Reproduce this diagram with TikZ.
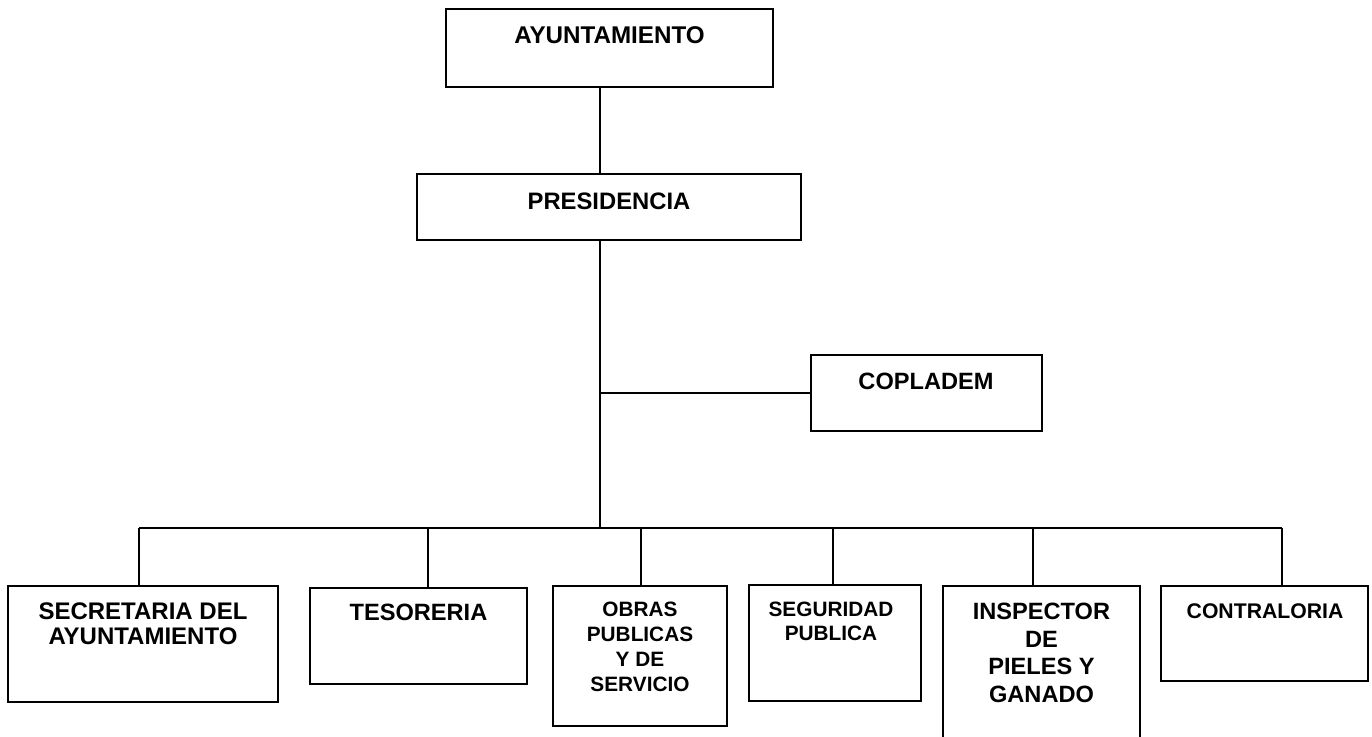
\documentclass[tikz,border=0pt]{standalone}
\usepackage{fontspec}
\setmainfont{Liberation Sans}
\newcommand\fsz[2]{\fontsize{#1}{#2}\selectfont\bfseries}
\begin{document}
\begin{tikzpicture}[x=0.5pt,y=-0.5pt,
  box/.style={draw, line width=1pt, rectangle, inner sep=0pt, fill=white},
  conn/.style={line width=1pt},
  ttl/.style={anchor=north, inner sep=0pt, align=center}]
\useasboundingbox (0,0) rectangle (1372,736);
\clip (0,0) rectangle (1372,736);

% boxes
\node[box, minimum width=163.5pt, minimum height=39pt] (ayun) at (609.5,48) {};
\node[box, minimum width=192pt, minimum height=33pt] (pres) at (609,207) {};
\node[box, minimum width=115.5pt, minimum height=38pt] (copl) at (926.5,393) {};
\node[box, minimum width=135pt, minimum height=58pt] (secr) at (143,644) {};
\node[box, minimum width=108.5pt, minimum height=48pt] (teso) at (418.5,636) {};
\node[box, minimum width=87pt, minimum height=70pt] (obras) at (640,656) {};
\node[box, minimum width=86pt, minimum height=58pt] (segu) at (835,643) {};
\node[box, minimum width=98.5pt, minimum height=87pt] (insp) at (1041.5,673) {};
\node[box, minimum width=103.5pt, minimum height=47.5pt] (cont) at (1264.5,633.5) {};

% texts
\node[ttl, font=\fsz{12.1}{14}] (ayunT) at (609.5,26) {AYUNTAMIENTO};
\node[ttl, font=\fsz{11.9}{14}] (presT) at (609,192) {PRESIDENCIA};
\node[ttl, font=\fsz{11.8}{14}] (coplT) at (926,373) {COPLADEM};
\node[ttl, font=\fsz{12}{12.85}] (secrT) at (143,602) {SECRETARIA DEL\\AYUNTAMIENTO};
\node[ttl, font=\fsz{11.8}{14}] (tesoT) at (418.5,604) {TESORERIA};
\node[ttl, font=\fsz{10.4}{12.35}] (obrasT) at (640,602) {OBRAS\\PUBLICAS\\Y DE\\SERVICIO};
\node[ttl, font=\fsz{10.4}{12}] (seguT) at (831,602) {SEGURIDAD\\PUBLICA};
\node[ttl, font=\fsz{11.8}{13.75}] (inspT) at (1041.5,603) {INSPECTOR\\DE\\PIELES Y\\GANADO};
\node[ttl, font=\fsz{10.6}{12.5}] (contT) at (1265,603) {CONTRALORIA};

% connectors
\coordinate (t) at (600,0);
\coordinate (bus) at (0,528);
\draw[conn] (ayun.south -| t) -- (pres.north -| t);
\draw[conn] (pres.south -| t) -- (bus -| t);
\draw[conn] (copl.west) -- (copl.west -| t);

\coordinate (d1) at (139,528);
\coordinate (d2) at (428,528);
\coordinate (d3) at (641,528);
\coordinate (d4) at (833,528);
\coordinate (d5) at (1033,528);
\coordinate (d6) at (1282,528);
\draw[conn] (d1) -- (d6);
\draw[conn] (d1) -- (d1 |- secr.north);
\draw[conn] (d2) -- (d2 |- teso.north);
\draw[conn] (d3) -- (d3 |- obras.north);
\draw[conn] (d4) -- (d4 |- segu.north);
\draw[conn] (d5) -- (d5 |- insp.north);
\draw[conn] (d6) -- (d6 |- cont.north);
\end{tikzpicture}
\end{document}
